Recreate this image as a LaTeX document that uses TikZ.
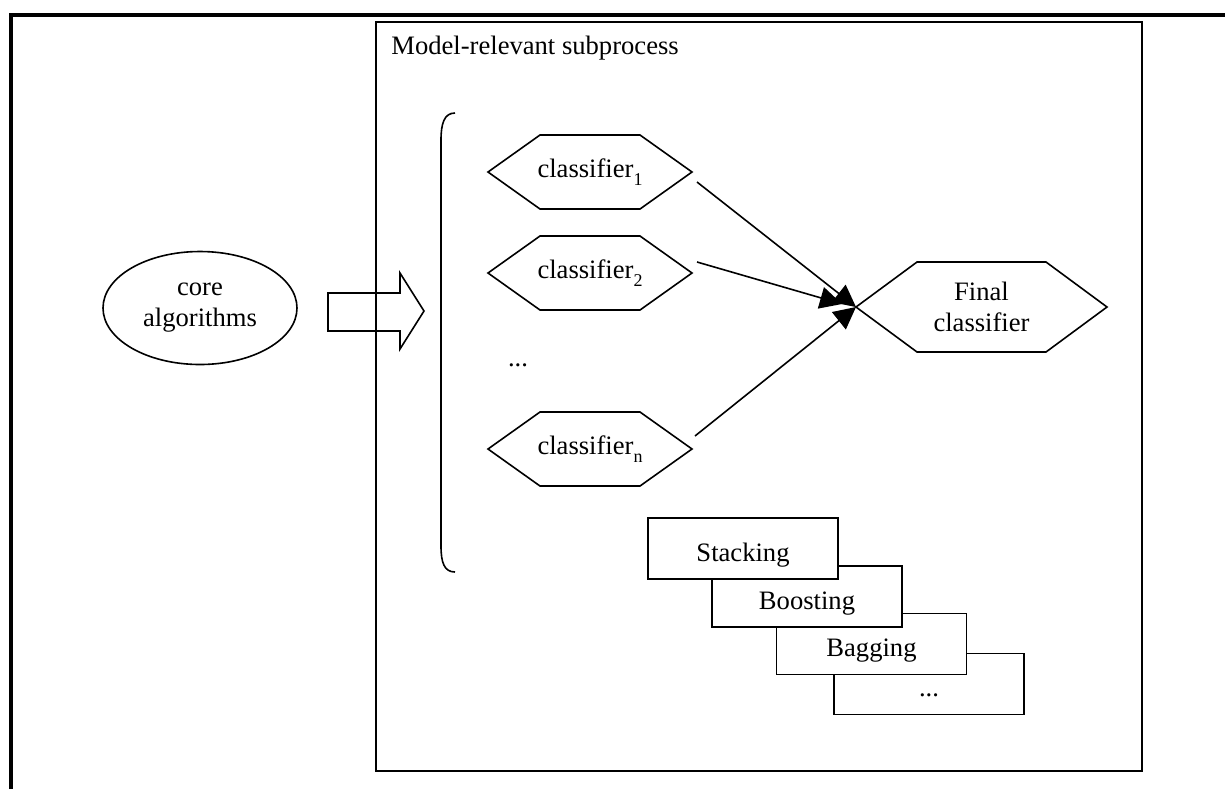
\documentclass[tikz,border=0pt]{standalone}
\usepackage{fontspec}
\setmainfont{Liberation Serif}
\usetikzlibrary{shapes.geometric,arrows.meta}

% hexagonal outline around a (borderless) rectangular node
\newcommand\hexoutline[2]{%
  \draw[shapeline] (#1.west) -- ([xshift=#2]#1.north west)
    -- ([xshift=-#2]#1.north east) -- (#1.east)
    -- ([xshift=-#2]#1.south east) -- ([xshift=#2]#1.south west) -- cycle;}
% lowered index after a word
\newcommand\lowidx[1]{\raisebox{-0.3em}{\fontsize{9}{9}\selectfont #1}}

\tikzset{
  shapeline/.style={line width=0.8pt, line join=miter},
  hexnode/.style={rectangle, inner sep=0pt, outer sep=0pt,
    minimum width=102pt, minimum height=37pt, align=center},
  methodbox/.style={draw, line width=0.8pt, fill=white, rectangle,
    minimum width=95pt, minimum height=30.5pt, inner sep=0pt,
    text height=16pt, text depth=3.5pt},
  link/.style={line width=0.8pt, -{Triangle[length=11pt,width=11pt]}},
}

\begin{document}
\begin{tikzpicture}[x=0.5pt, y=-0.5pt, font=\fontsize{13.3}{15.5}\selectfont]
\useasboundingbox (0,0) rectangle (1225,789);

% outer frame (only top and left sides fall inside the page)
\draw[line width=2pt] (11,789) -- (11,14.5) -- (1225,14.5);

% subprocess container
\node[draw, line width=0.75pt, rectangle, inner sep=0pt,
      minimum width=383pt, minimum height=374.5pt] (sub) at (759,396.5) {};
\node[anchor=west, inner sep=0pt] (title) at (391,48) {Model-relevant subprocess};

% core algorithms
\node[draw, shapeline, ellipse, inner sep=0pt, minimum width=97pt,
      minimum height=56.5pt, align=center] (core) at (200,308) {core\\algorithms};

% block arrow into the subprocess
\draw[shapeline] (328,293) -- (400,293) -- (400,273) -- (424,311)
  -- (400,349) -- (400,331) -- (328,331) -- cycle;

% bracket grouping the classifiers
\draw[line width=0.8pt] (455,113) .. controls (444,113) and (441,124) .. (441,140)
  -- (441,546) .. controls (441,562) and (444,572) .. (455,572);

% base classifiers
\node[hexnode] (c1) at (590,172) {classifier\lowidx{1}};
\node[hexnode] (c2) at (590,273) {classifier\lowidx{2}};
\node[hexnode] (cn) at (590,449) {classifier\lowidx{n}};
\hexoutline{c1}{26pt}
\hexoutline{c2}{26pt}
\hexoutline{cn}{26pt}
\node[anchor=base, inner sep=0pt] (dots) at (518,366) {...};

% final classifier
\node[hexnode, minimum width=125.5pt, minimum height=45pt] (final) at (981.5,307) {Final\\classifier};
\hexoutline{final}{30.5pt}

% combination links
\draw[link] ([shift={(5,10)}]c1.east) -- (final.west);
\draw[link] ([shift={(5,-11)}]c2.east) -- ([shift={(-14,-3)}]final.west);
\draw[link] ([shift={(3,-13)}]cn.east) -- (final.west);

% ensemble methods, stacked back to front
\node[methodbox] (more)  at (929,684)   {...};
\node[methodbox] (bag)   at (871.5,644) {Bagging};
\node[methodbox] (boost) at (807,596.5) {Boosting};
\node[methodbox] (stack) at (743,548.5) {Stacking};
\end{tikzpicture}
\end{document}
